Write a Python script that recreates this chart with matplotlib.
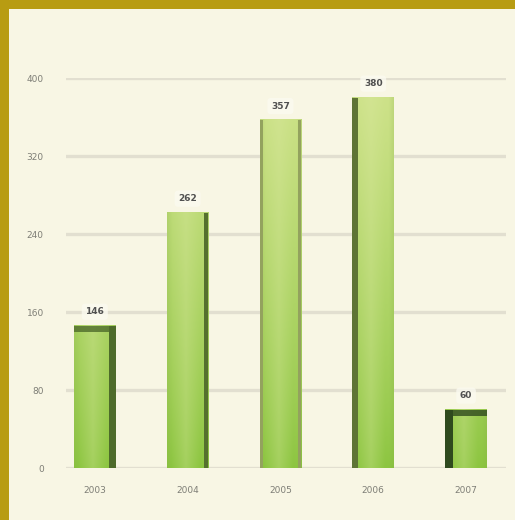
import numpy as np
import matplotlib
matplotlib.use("Agg")
import matplotlib.pyplot as plt
from matplotlib.patches import Rectangle
from matplotlib.colors import to_rgb

# data
years = ["2003", "2004", "2005", "2006", "2007"]
values = [146, 262, 357, 380, 60]
y_ticks = [0, 80, 160, 240, 320, 400]

BG = "#F8F6E4"
GOLD = "#B89C12"
GRID = "#E2DFD0"

# side shading per bar: (side, width in px, colour), and whether the top face is dark
side_shade = [("right", 7, "#4E6B2B"), ("right", 4, "#55702E"),
              (None, 0, None), ("left", 6, "#5E7435"), ("left", 8, "#2F4A1E")]
dark_top = [True, False, False, False, True]

fig = plt.figure(figsize=(5.15, 5.2), dpi=100)
fig.patch.set_facecolor(BG)

# gold frame on the top and left edges
fig.add_artist(Rectangle((0, 1 - 9 / 520), 1, 9 / 520, transform=fig.transFigure,
                         color=GOLD, lw=0))
fig.add_artist(Rectangle((0, 0), 9 / 515, 1, transform=fig.transFigure,
                         color=GOLD, lw=0))

ax = fig.add_axes([66 / 515, 52 / 520, 440 / 515, 390 / 520])
ax.set_facecolor("none")

x = np.arange(len(years))
bar_w = 0.45
px_x = 92.75            # pixels per category step
px_y = 390 / 400        # pixels per value unit
y_top = y_ticks[-1]

# gradient fill over the whole value range: grass green near the base,
# light yellow-green higher up, with a lighter band a little left of centre
top_col = np.array(to_rgb("#D0E38C"))
bot_col = np.array(to_rgb("#8CC540"))
hl_col = np.array(to_rgb("#DDEAA4"))
nv, nh = 200, 40
v = np.linspace(0, 1, nv)[:, None, None] ** 0.8
h = np.linspace(0, 1, nh)[None, :, None]
body = bot_col * (1 - v) + top_col * v
band = np.clip(1 - np.abs(h - 0.45) / 0.35, 0, 1) * 0.3
edge = np.clip(np.abs(h - 0.5) - 0.38, 0, 1) * 1.5
grad = body * (1 - band) + hl_col * band
grad = grad * (1 - edge) + np.array(to_rgb("#7FA845")) * edge

for i, (xi, val) in enumerate(zip(x, values)):
    rows = max(2, int(round(nv * val / y_top)))
    ax.imshow(grad[:rows], extent=[xi - bar_w / 2, xi + bar_w / 2, 0, val],
              origin="lower", aspect="auto", zorder=2, interpolation="bilinear")
    side, sw_px, scol = side_shade[i]
    sw = sw_px / px_x
    if side == "right":
        ax.bar(xi + bar_w / 2 - sw / 2, val, width=sw, color=scol, lw=0, zorder=3)
    elif side == "left":
        ax.bar(xi - bar_w / 2 + sw / 2, val, width=sw, color=scol, lw=0, zorder=3)
    else:
        # middle bar: soft olive edges on both sides
        ew = 3 / px_x
        ax.bar(xi - bar_w / 2 + ew / 2, val, width=ew, color="#93A25E", lw=0, zorder=3)
        ax.bar(xi + bar_w / 2 - ew / 2, val, width=ew, color="#93A25E", lw=0, zorder=3)
    if dark_top[i]:
        th = 6 / px_y
        ax.bar(xi, th, bottom=val - th, width=bar_w, color=scol, lw=0,
               zorder=3, alpha=0.8)
    ax.annotate(str(val), (xi, val), xytext=(0, 10), textcoords="offset points",
                ha="center", va="center", fontsize=6.5, fontweight="bold",
                color="#505050", zorder=4,
                bbox=dict(boxstyle="round,pad=0.4", fc="#FBFAF0", ec="none", alpha=0.8))

ax.set_xlim(-0.31, 4.43)
ax.set_ylim(0, y_top)
ax.set_yticks(y_ticks)
ax.set_xticks(x)
ax.set_xticklabels(years)
ax.set_axisbelow(True)
ax.yaxis.grid(True, color=GRID, lw=2.4)
ax.tick_params(axis="both", length=0, labelsize=6.5, colors="#7E7E76")
ax.tick_params(axis="y", pad=16)
ax.tick_params(axis="x", pad=13)
for s in ax.spines.values():
    s.set_visible(False)

fig.savefig("out.png", dpi=100, facecolor=BG)
